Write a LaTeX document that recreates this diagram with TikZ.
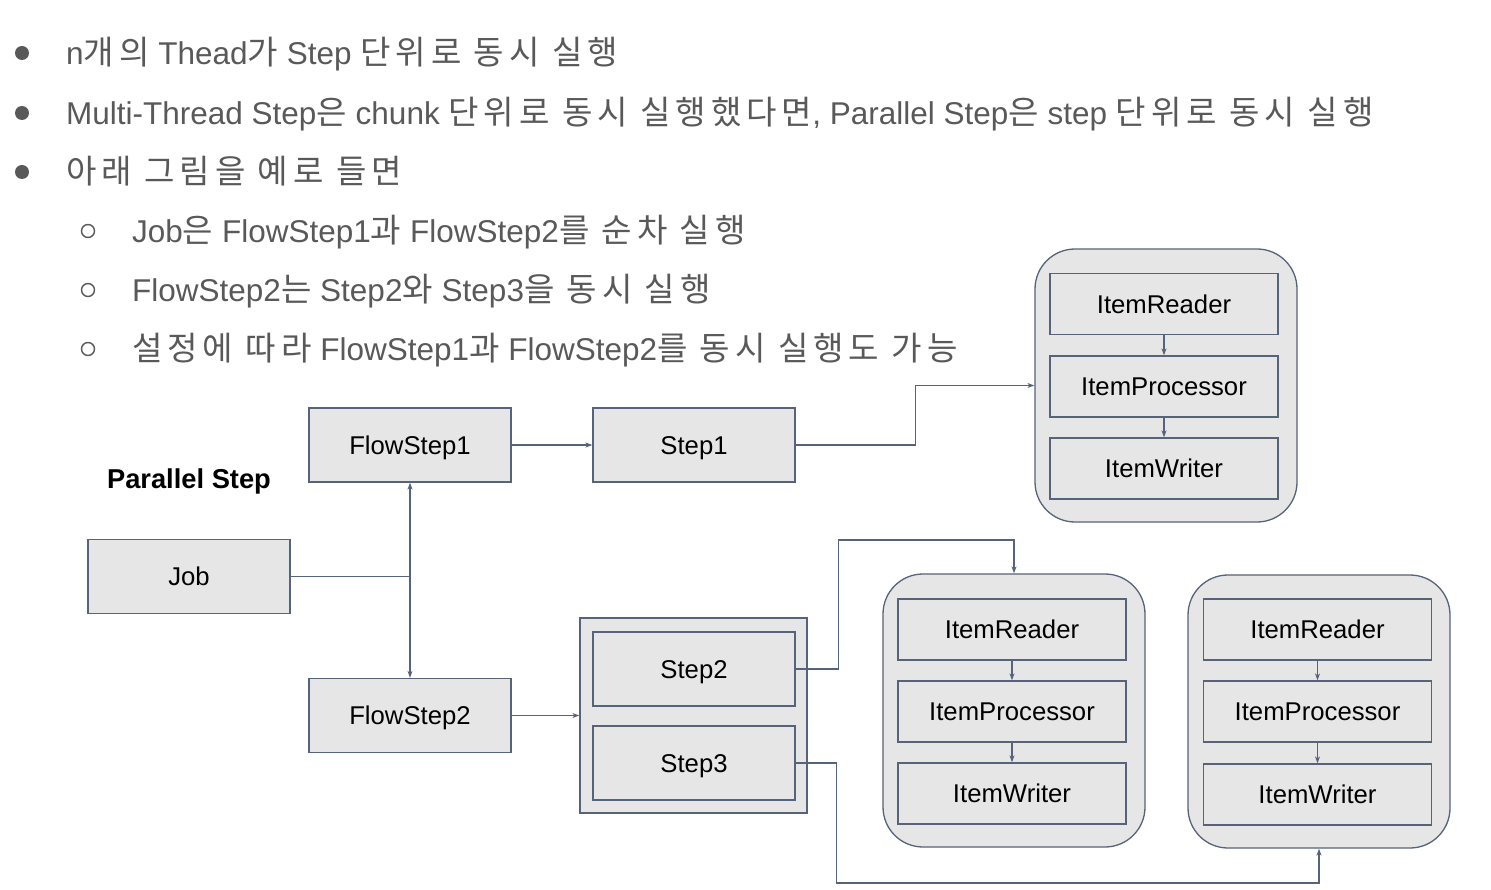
\documentclass[tikz,border=0pt]{standalone}
\usepackage{fontspec}
\setmainfont{Liberation Sans}
\newfontfamily\krfont[LetterSpace=15,Scale=1.05]{Noto Sans CJK KR}
\newcommand{\kr}[1]{{\krfont #1}}
\usetikzlibrary{arrows.meta}
\definecolor{lc}{HTML}{56637A}
\definecolor{boxfill}{HTML}{E6E6E6}
\definecolor{txt}{HTML}{595959}
\begin{document}
\begin{tikzpicture}[x=1pt,y=-1pt,
  bul/.style={anchor=base west,inner sep=0,text=txt,font=\fontsize{31.5}{38}\selectfont},
  box/.style={draw=lc,fill=boxfill,line width=1.3pt,inner sep=0,minimum width=202pt,minimum height=74pt,text height=18.5pt,text depth=0pt,font=\fontsize{25.7}{30}\selectfont},
  ibox/.style={box,minimum width=228pt,minimum height=61pt},
  cont/.style={draw=lc,fill=boxfill,line width=1.3pt,inner sep=0,minimum width=262pt,minimum height=273pt,rounded corners=40pt},
  conn/.style={draw=lc,line width=1.2pt,-{Stealth[length=7pt,width=5pt]}}]
\useasboundingbox (0,0) rectangle (1491,890);
% bullets
\foreach \yy in {53,113,172} \fill[txt] (22,\yy) circle (7);
\foreach \yy in {231,290,349} \draw[txt,line width=1.4pt] (88,\yy) circle (6.5);
\node[bul] (t1) at (66,65) {n\kr{개의} Thead\kr{가} Step \kr{단위로 동시 실행}};
\node[bul] (t2) at (66,125) {Multi-Thread Step\kr{은} chunk \kr{단위로 동시 실행했다면}, Parallel Step\kr{은} step \kr{단위로 동시 실행}};
\node[bul] (t3) at (66,184) {\kr{아래 그림을 예로 들면}};
\node[bul] (t4) at (132,243) {Job\kr{은} FlowStep1\kr{과} FlowStep2\kr{를 순차 실행}};
\node[bul] (t5) at (132,302) {FlowStep2\kr{는} Step2\kr{와} Step3\kr{을 동시 실행}};
\node[bul] (t6) at (132,361) {\kr{설정에 따라} FlowStep1\kr{과} FlowStep2\kr{를 동시 실행도 가능}};
% diagram
\node[font=\bfseries\fontsize{27.3}{32}\selectfont,text height=19.7pt,text depth=0pt,inner sep=0] (ps) at (189,479) {Parallel Step};
\node[box] (fs1) at (410,445) {FlowStep1};
\node[box] (s1) at (694,445) {Step1};
\node[box] (job) at (189,576.5) {Job};
\node[box] (fs2) at (410,715.5) {FlowStep2};
\node[box,minimum width=227pt,minimum height=195pt] (par) at (693.5,715.5) {};
\node[box] (s2) at (694,669) {Step2};
\node[box] (s3) at (694,763) {Step3};
% containers
\node[cont] (c1) at (1166,385.5) {};
\node[ibox] (r1) at (1164,304) {ItemReader};
\node[ibox] (p1) at (1164,386.5) {ItemProcessor};
\node[ibox] (w1) at (1164,468.5) {ItemWriter};
\node[cont] (c2) at (1014,710.5) {};
\node[ibox] (r2) at (1012,629.5) {ItemReader};
\node[ibox] (p2) at (1012,711.5) {ItemProcessor};
\node[ibox] (w2) at (1012,793.5) {ItemWriter};
\node[cont] (c3) at (1319,711.5) {};
\node[ibox] (r3) at (1317.5,629.5) {ItemReader};
\node[ibox] (p3) at (1317.5,711.5) {ItemProcessor};
\node[ibox] (w3) at (1317.5,794.5) {ItemWriter};
% connectors
\draw[conn] (job.east) -| (fs1.south);
\draw[conn] (job.east) -| (fs2.north);
\draw[conn] (fs1) -- (s1);
\draw[conn] (fs2.east) -- (par.west);
\draw[conn] (s1.east) -- ++(120,0) |- (c1.west);
\draw[conn] (s2.east) -- ++(43,0) -- ++(0,-129) -| (c2.north);
\draw[conn] (s3.east) -- ++(41,0) -- ++(0,120) -| (c3.south);
\foreach \i in {1,2,3} {
  \draw[conn] (r\i) -- (p\i);
  \draw[conn] (p\i) -- (w\i);
}
\end{tikzpicture}
\end{document}
